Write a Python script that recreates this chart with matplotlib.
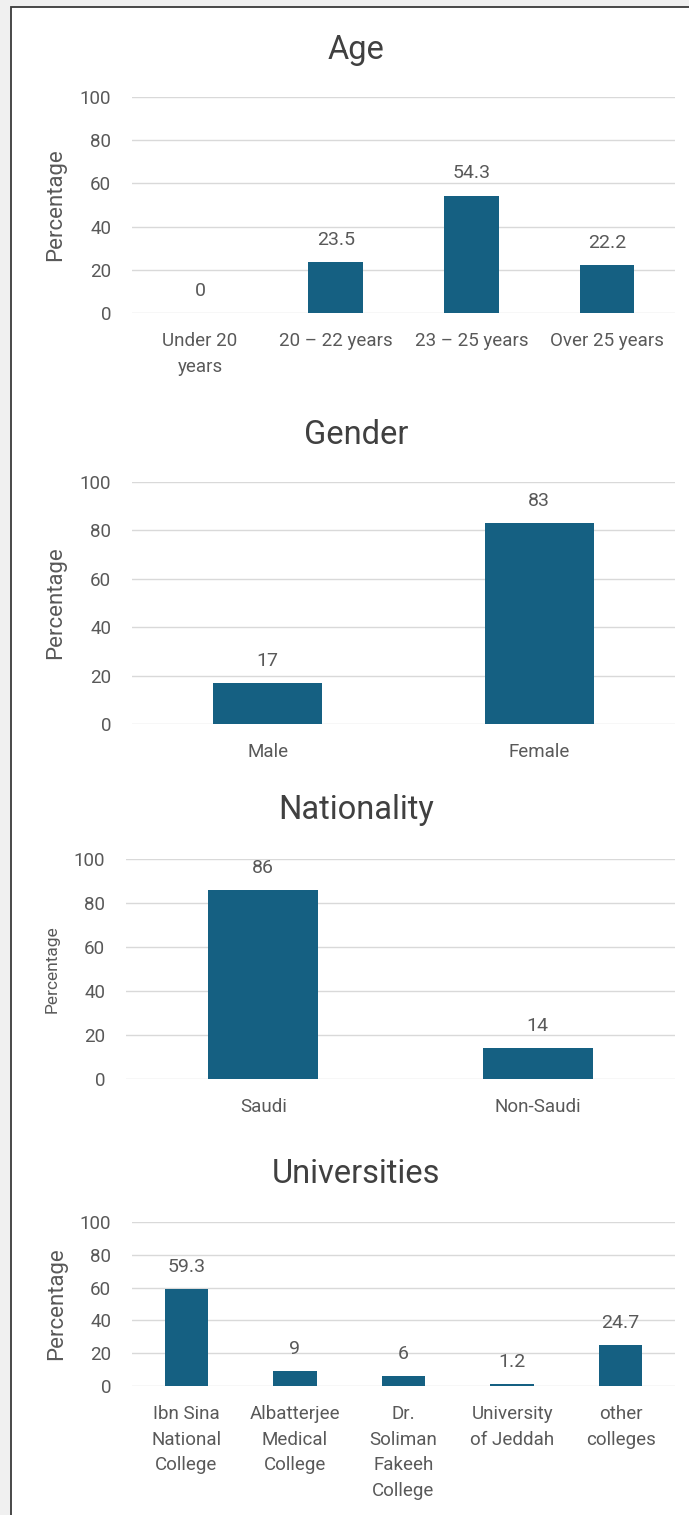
import matplotlib
matplotlib.use('Agg')
import matplotlib.pyplot as plt
import matplotlib.patches as mpatches

plt.rcParams['font.family'] = ['Roboto', 'DejaVu Sans']

# --- data ---
age_labels = ['Under 20\nyears', '20 – 22 years', '23 – 25 years', 'Over 25 years']
age_values = [0, 23.5, 54.3, 22.2]
age_text = ['0', '23.5', '54.3', '22.2']

gender_labels = ['Male', 'Female']
gender_values = [17, 83]
gender_text = ['17', '83']

nat_labels = ['Saudi', 'Non-Saudi']
nat_values = [86, 14]
nat_text = ['86', '14']

uni_labels = ['Ibn Sina\nNational\nCollege', 'Albatterjee\nMedical\nCollege',
              'Dr.\nSoliman\nFakeeh\nCollege', 'University\nof Jeddah', 'other\ncolleges']
uni_values = [59.3, 9, 6, 1.2, 24.7]
uni_text = ['59.3', '9', '6', '1.2', '24.7']

y_ticks = [0, 20, 40, 60, 80, 100]

W, H = 689, 1515
BAR = '#156082'
TXT = '#595959'
TITLE = '#404040'
GRID = '#d9d9d9'

fig = plt.figure(figsize=(W / 100, H / 100), dpi=100)
fig.patch.set_facecolor('#f0f0f0')

# white panel with dark frame (runs off the right/bottom edge)
panel = mpatches.Rectangle((11 / W, -0.05), 1.0, 1 - 7 / H + 0.05,
                           transform=fig.transFigure, facecolor='white',
                           edgecolor='#3a3a3a', lw=1.3, zorder=-5)
fig.patches.append(panel)


def px_axes(left, right, top, bottom):
    return fig.add_axes([left / W, 1 - bottom / H, (right - left) / W, (bottom - top) / H])


def bar_panel(box, title, title_y, labels, values, texts, ylab_x, ylab_size=16):
    ax = px_axes(*box)
    ax.set_facecolor('none')
    x = range(len(values))
    ax.bar(x, values, width=0.4, color=BAR, zorder=3)
    ax.set_xlim(-0.5, len(values) - 0.5)
    ax.set_ylim(0, 100)
    ax.set_yticks(y_ticks)
    ax.set_yticklabels([str(t) for t in y_ticks])
    ax.set_xticks(list(x))
    ax.set_xticklabels(labels, linespacing=1.56, va='top')
    ax.tick_params(axis='y', length=0, pad=15, labelsize=13.5, labelcolor=TXT)
    ax.tick_params(axis='x', length=0, pad=13.5, labelsize=13.5, labelcolor=TXT)
    ax.grid(axis='y', color=GRID, lw=1.0, zorder=0)
    for s in ax.spines.values():
        s.set_visible(False)

    for xi, v, t in zip(x, values, texts):
        ax.annotate(t, (xi, v), xytext=(0, 16), textcoords='offset points',
                    ha='center', va='center', fontsize=14, color=TXT)

    # title + y label in figure coords
    fig.text(356 / W, 1 - title_y / H, title, ha='center', va='center',
             fontsize=23.5, color=TITLE)
    mid = (box[2] + box[3]) / 2
    fig.text(ylab_x / W, 1 - mid / H, 'Percentage', rotation=90,
             ha='center', va='center', fontsize=ylab_size, color=TXT)
    return ax


bar_panel((132, 675, 97, 313), 'Age', 50, age_labels, age_values, age_text, 56)
bar_panel((132, 675, 482, 724), 'Gender', 435, gender_labels, gender_values, gender_text, 56)
bar_panel((126, 675, 859, 1079), 'Nationality', 810, nat_labels, nat_values, nat_text, 52,
          ylab_size=12.5)
bar_panel((132, 675, 1222, 1386), 'Universities', 1174, uni_labels, uni_values, uni_text, 57)

fig.savefig('out.png', dpi=100, facecolor=fig.get_facecolor())
